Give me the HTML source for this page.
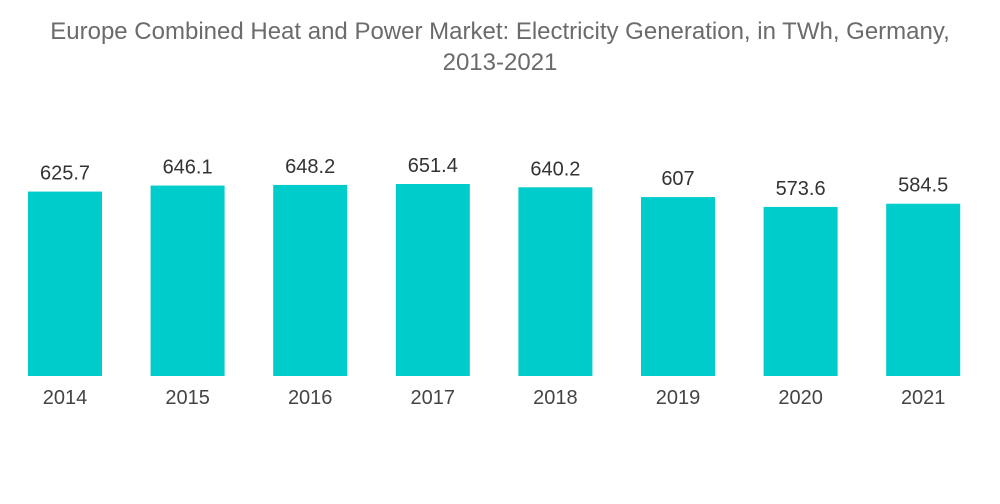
<!DOCTYPE html>
<html><head><meta charset="utf-8"><style>
body{margin:0;background:#fff;width:1000px;height:504px;overflow:hidden;font-family:"Liberation Sans",sans-serif}
#title{position:absolute;top:16px;left:0;width:1000px;text-align:center;color:#6b6b6b;font-size:24px;line-height:31px}
</style></head><body>
<div id="title">Europe Combined Heat and Power Market: Electricity Generation, in TWh, Germany,<br>2013-2021</div>
<svg id="chart" width="1000" height="504" style="position:absolute;top:0;left:0"></svg>
<script>
const categories=["2014","2015","2016","2017","2018","2019","2020","2021"];
const values=[625.7,646.1,648.2,651.4,640.2,607,573.6,584.5];
const labels=["625.7","646.1","648.2","651.4","640.2","607","573.6","584.5"];
const svg=document.getElementById('chart');
const NS='http://www.w3.org/2000/svg';
const baseY=376, scale=192/651.4;
const x0=28, step=122.6, bw=74;
function xPos(i){return x0+i*step;}
function yPos(v){return baseY-v*scale;}
categories.forEach((c,i)=>{
  const r=document.createElementNS(NS,'rect');
  r.setAttribute('x',xPos(i));r.setAttribute('y',yPos(values[i]));
  r.setAttribute('width',bw);r.setAttribute('height',baseY-yPos(values[i]));
  r.setAttribute('fill','#00cccc');
  
  
  svg.appendChild(r);
  const t=document.createElementNS(NS,'text');
  t.setAttribute('x',xPos(i)+bw/2);t.setAttribute('y',yPos(values[i])-12);
  t.setAttribute('text-anchor','middle');t.setAttribute('font-size','20');t.setAttribute('fill','#333');
  t.setAttribute('font-family','Liberation Sans, sans-serif');
  t.textContent=labels[i];
  
  
  svg.appendChild(t);
  const a=document.createElementNS(NS,'text');
  a.setAttribute('x',xPos(i)+bw/2);a.setAttribute('y',404);
  a.setAttribute('text-anchor','middle');a.setAttribute('font-size','20');a.setAttribute('fill','#444');
  a.setAttribute('font-family','Liberation Sans, sans-serif');
  a.textContent=c;
  
  
  svg.appendChild(a);
});
</script>
</body></html>
